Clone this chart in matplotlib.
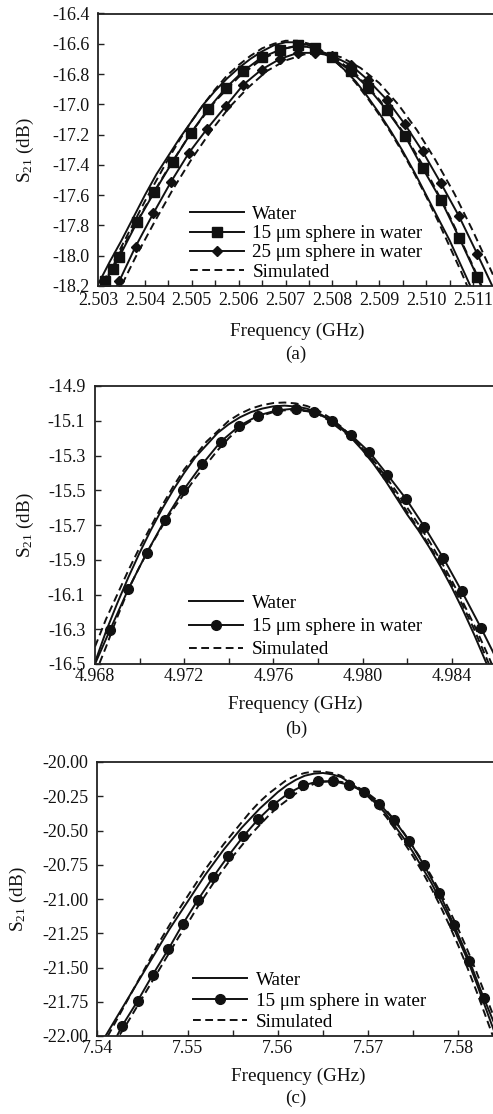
# plot.py
# S21 resonance curves: water vs polystyrene spheres in water, three bands (a), (b), (c)

import matplotlib
matplotlib.use('Agg')
import matplotlib.pyplot as plt
from matplotlib.ticker import MultipleLocator, FixedLocator, FormatStrFormatter

plt.rcParams['font.family'] = 'Liberation Serif'
plt.rcParams['mathtext.default'] = 'regular'
plt.rcParams['axes.unicode_minus'] = False

# ---------------- (a) ~2.507 GHz ----------------
fa_water = [2.50300, 2.50325, 2.50350, 2.50375, 2.50400, 2.50425, 2.50450, 2.50475, 2.50500,
            2.50525, 2.50550, 2.50575, 2.50600, 2.50625, 2.50650, 2.50675, 2.50700, 2.50725,
            2.50750, 2.50775, 2.50800, 2.50825, 2.50850, 2.50875, 2.50900, 2.50925, 2.50950,
            2.50975, 2.51000, 2.51025, 2.51050, 2.51075, 2.51100]
sa_water = [-18.19, -18.04, -17.90, -17.75, -17.60, -17.46, -17.34, -17.22, -17.11,
            -17.00, -16.91, -16.83, -16.76, -16.70, -16.65, -16.61, -16.59, -16.59,
            -16.61, -16.65, -16.70, -16.77, -16.85, -16.95, -17.06, -17.18, -17.31,
            -17.45, -17.60, -17.75, -17.90, -18.07, -18.24]

fa_15 = [2.50308, 2.50315, 2.50331, 2.50345, 2.50383, 2.50420, 2.50459, 2.50498, 2.50535,
         2.50573, 2.50610, 2.50649, 2.50688, 2.50726, 2.50763, 2.50798, 2.50839, 2.50876,
         2.50916, 2.50955, 2.50992, 2.51031, 2.51070, 2.51109, 2.51118]
sa_15 = [-18.20, -18.17, -18.09, -18.01, -17.78, -17.58, -17.38, -17.19, -17.03,
         -16.89, -16.78, -16.69, -16.64, -16.61, -16.63, -16.69, -16.78, -16.89,
         -17.04, -17.21, -17.42, -17.63, -17.88, -18.14, -18.21]

fa_25 = [2.50340, 2.50345, 2.50380, 2.50418, 2.50456, 2.50494, 2.50533, 2.50573, 2.50610,
         2.50649, 2.50688, 2.50726, 2.50763, 2.50800, 2.50839, 2.50876, 2.50916, 2.50954,
         2.50992, 2.51031, 2.51070, 2.51109, 2.51150]
sa_25 = [-18.20, -18.17, -17.94, -17.72, -17.51, -17.32, -17.16, -17.01, -16.87,
         -16.77, -16.70, -16.66, -16.66, -16.68, -16.74, -16.84, -16.97, -17.13,
         -17.31, -17.52, -17.74, -17.99, -18.26]

fa_sim_w = fa_water
sa_sim_w = [-18.25, -18.09, -17.94, -17.79, -17.64, -17.50, -17.36, -17.23, -17.11,
            -17.00, -16.90, -16.81, -16.74, -16.68, -16.63, -16.60, -16.58, -16.58,
            -16.60, -16.64, -16.70, -16.77, -16.86, -16.96, -17.07, -17.19, -17.32,
            -17.46, -17.61, -17.77, -17.94, -18.11, -18.29]

fa_sim_15 = [2.50310, 2.50350, 2.50400, 2.50450, 2.50500, 2.50550, 2.50600, 2.50650, 2.50700,
             2.50725, 2.50750, 2.50800, 2.50850, 2.50900, 2.50950, 2.51000, 2.51050, 2.51100,
             2.51125]
sa_sim_15 = [-18.20, -17.96, -17.68, -17.42, -17.18, -16.98, -16.82, -16.70, -16.63,
             -16.615, -16.62, -16.68, -16.80, -16.97, -17.18, -17.44, -17.74, -18.07,
             -18.25]

fa_sim_25 = [2.50340, 2.50380, 2.50420, 2.50460, 2.50500, 2.50540, 2.50580, 2.50620, 2.50660,
             2.50700, 2.50740, 2.50780, 2.50820, 2.50860, 2.50900, 2.50940, 2.50980, 2.51020,
             2.51060, 2.51100, 2.51140, 2.51170]
sa_sim_25 = [-18.26, -18.01, -17.78, -17.56, -17.36, -17.18, -17.02, -16.89, -16.78,
             -16.71, -16.67, -16.66, -16.69, -16.76, -16.86, -17.00, -17.17, -17.37,
             -17.59, -17.84, -18.11, -18.32]

ya_ticks = [-18.2, -18.0, -17.8, -17.6, -17.4, -17.2, -17.0, -16.8, -16.6, -16.4]

# ---------------- (b) ~4.976 GHz ----------------
fb_water = [4.9680, 4.9685, 4.9690, 4.9695, 4.9700, 4.9705, 4.9710, 4.9715, 4.9720, 4.9725,
            4.9730, 4.9735, 4.9740, 4.9745, 4.9750, 4.9755, 4.9760, 4.9765, 4.9770, 4.9775,
            4.9780, 4.9785, 4.9790, 4.9795, 4.9800, 4.9805, 4.9810, 4.9815, 4.9820, 4.9825,
            4.9830, 4.9835, 4.9840, 4.9845, 4.9850, 4.9855, 4.9860]
sb_water = [-16.49, -16.31, -16.15, -16.00, -15.86, -15.73, -15.61, -15.50, -15.40, -15.31,
            -15.24, -15.17, -15.12, -15.08, -15.05, -15.03, -15.017, -15.013, -15.018, -15.03,
            -15.055, -15.09, -15.14, -15.20, -15.27, -15.35, -15.44, -15.54, -15.64, -15.73,
            -15.83, -15.94, -16.06, -16.19, -16.33, -16.48, -16.63]

fb_15 = [4.96800, 4.96867, 4.96949, 4.97032, 4.97114, 4.97196, 4.97281, 4.97364, 4.97447,
         4.97532, 4.97615, 4.97700, 4.97782, 4.97864, 4.97946, 4.98030, 4.98111, 4.98195,
         4.98277, 4.98362, 4.98444, 4.98530, 4.98600]
sb_15 = [-16.50, -16.305, -16.07, -15.86, -15.67, -15.50, -15.35, -15.22, -15.13,
         -15.07, -15.04, -15.03, -15.05, -15.10, -15.18, -15.28, -15.41, -15.55,
         -15.71, -15.89, -16.08, -16.29, -16.47]

fb_sim_w = fb_water
sb_sim_w = [-16.40, -16.24, -16.10, -15.96, -15.83, -15.71, -15.59, -15.48, -15.38, -15.30,
            -15.22, -15.16, -15.10, -15.06, -15.03, -15.01, -14.998, -14.995, -15.00, -15.015,
            -15.04, -15.08, -15.13, -15.19, -15.26, -15.34, -15.43, -15.525, -15.625, -15.72,
            -15.82, -15.925, -16.04, -16.165, -16.30, -16.45, -16.60]

fb_sim_15 = fb_water
sb_sim_15 = [-16.56, -16.40, -16.23, -16.07, -15.94, -15.82, -15.71, -15.61, -15.52, -15.43,
             -15.35, -15.27, -15.20, -15.14, -15.10, -15.07, -15.05, -15.04, -15.04, -15.045,
             -15.06, -15.10, -15.15, -15.20, -15.255, -15.33, -15.415, -15.505, -15.60, -15.695,
             -15.795, -15.905, -16.02, -16.145, -16.275, -16.415, -16.56]

yb_ticks = [-16.5, -16.3, -16.1, -15.9, -15.7, -15.5, -15.3, -15.1, -14.9]

# ---------------- (c) ~7.565 GHz ----------------
fc_water = [7.5405, 7.5410, 7.5420, 7.5430, 7.5440, 7.5450, 7.5460, 7.5470, 7.5480, 7.5490,
            7.5500, 7.5510, 7.5520, 7.5530, 7.5540, 7.5550, 7.5560, 7.5570, 7.5580, 7.5590,
            7.5600, 7.5610, 7.5620, 7.5630, 7.5640, 7.5650, 7.5660, 7.5670, 7.5680, 7.5690,
            7.5700, 7.5710, 7.5720, 7.5730, 7.5740, 7.5750, 7.5760, 7.5770, 7.5780, 7.5790,
            7.5800, 7.5810, 7.5820, 7.5830, 7.5840, 7.5845]
sc_water = [-22.04, -21.99, -21.88, -21.77, -21.66, -21.55, -21.44, -21.33, -21.22, -21.12,
            -21.02, -20.92, -20.82, -20.73, -20.64, -20.56, -20.48, -20.41, -20.34, -20.28,
            -20.22, -20.17, -20.13, -20.10, -20.085, -20.08, -20.09, -20.11, -20.15, -20.20,
            -20.25, -20.31, -20.38, -20.47, -20.56, -20.66, -20.77, -20.88, -21.01, -21.14,
            -21.29, -21.44, -21.61, -21.79, -21.97, -22.06]

fc_15 = [7.54210, 7.54277, 7.54447, 7.54613, 7.54787, 7.54946, 7.55115, 7.55285, 7.55452,
         7.55618, 7.55784, 7.55950, 7.56120, 7.56283, 7.56449, 7.56615, 7.56789, 7.56955,
         7.57125, 7.57287, 7.57457, 7.57620, 7.57790, 7.57952, 7.58122, 7.58284, 7.58450]
sc_15 = [-22.01, -21.924, -21.744, -21.554, -21.367, -21.184, -21.006, -20.838, -20.685,
         -20.543, -20.417, -20.312, -20.227, -20.171, -20.141, -20.141, -20.166, -20.217,
         -20.305, -20.422, -20.575, -20.753, -20.957, -21.189, -21.449, -21.725, -21.99]

fc_sim_w = fc_water
sc_sim_w = [-22.08, -22.02, -21.90, -21.78, -21.66, -21.54, -21.42, -21.30, -21.19, -21.08,
            -20.98, -20.88, -20.78, -20.69, -20.60, -20.52, -20.44, -20.36, -20.29, -20.23,
            -20.18, -20.13, -20.10, -20.08, -20.07, -20.07, -20.08, -20.10, -20.14, -20.19,
            -20.25, -20.32, -20.40, -20.49, -20.59, -20.69, -20.80, -20.92, -21.05, -21.19,
            -21.34, -21.50, -21.67, -21.85, -22.03, -22.12]

fc_sim_15 = [7.5425, 7.5430, 7.5440, 7.5450, 7.5460, 7.5470, 7.5480, 7.5490, 7.5500, 7.5510,
             7.5520, 7.5530, 7.5540, 7.5550, 7.5560, 7.5570, 7.5580, 7.5590, 7.5600, 7.5610,
             7.5620, 7.5630, 7.5640, 7.5650, 7.5660, 7.5670, 7.5680, 7.5690, 7.5700, 7.5710,
             7.5720, 7.5730, 7.5740, 7.5750, 7.5760, 7.5770, 7.5780, 7.5790, 7.5800, 7.5810,
             7.5820, 7.5830, 7.5840, 7.5850]
sc_sim_15 = [-21.99, -21.94, -21.83, -21.72, -21.61, -21.50, -21.39, -21.28, -21.18, -21.07,
             -20.97, -20.87, -20.78, -20.69, -20.61, -20.53, -20.46, -20.39, -20.33, -20.28,
             -20.23, -20.19, -20.16, -20.145, -20.14, -20.145, -20.16, -20.19, -20.23, -20.28,
             -20.35, -20.43, -20.52, -20.62, -20.72, -20.83, -20.95, -21.08, -21.22, -21.37,
             -21.53, -21.70, -21.87, -22.04]

yc_ticks = [-22.0, -21.75, -21.5, -21.25, -21.0, -20.75, -20.5, -20.25, -20.0]

lbl_water = 'Water'
lbl_15 = '15 \u03bcm sphere in water'
lbl_25 = '25 \u03bcm sphere in water'
lbl_sim = 'Simulated'

# ---------------- figure ----------------
W, H = 493, 1114
fig = plt.figure(figsize=(W / 100, H / 100), dpi=100)

def px_axes(left, top, bottom, width):
    # pixel box -> figure fractions
    return fig.add_axes([left / W, 1 - bottom / H, width / W, (bottom - top) / H])

ax_a = px_axes(98, 13.5, 286, 398.6)
ax_b = px_axes(95, 386, 664, 401.4)
ax_c = px_axes(97.3, 762, 1036, 401.6)

K = '#111111'
LW = 1.4
DASH = (0, (4, 2.3))
FS_TICK = 13
FS_TEXT = 13.8

# (a)
ax_a.plot(fa_water, sa_water, color=K, lw=LW, label=lbl_water)
ax_a.plot(fa_15, sa_15, color=K, lw=LW, marker='s', ms=6.5, markevery=list(range(1, len(fa_15) - 1)), label=lbl_15)
ax_a.plot(fa_25, sa_25, color=K, lw=LW, marker='D', ms=5.2, markevery=list(range(1, len(fa_25) - 1)), label=lbl_25)
ax_a.plot(fa_sim_w, sa_sim_w, color=K, lw=LW, ls=DASH, label=lbl_sim)
ax_a.plot(fa_sim_15, sa_sim_15, color=K, lw=LW, ls=DASH)
ax_a.plot(fa_sim_25, sa_sim_25, color=K, lw=LW, ls=DASH)

# (b)
ax_b.plot(fb_water, sb_water, color=K, lw=LW, label=lbl_water)
ax_b.plot(fb_15, sb_15, color=K, lw=LW, marker='o', ms=7, markevery=list(range(1, len(fb_15) - 1)), label=lbl_15)
ax_b.plot(fb_sim_w, sb_sim_w, color=K, lw=LW, ls=DASH, label=lbl_sim)
ax_b.plot(fb_sim_15, sb_sim_15, color=K, lw=LW, ls=DASH)

# (c)
ax_c.plot(fc_water, sc_water, color=K, lw=LW, label=lbl_water)
ax_c.plot(fc_15, sc_15, color=K, lw=LW, marker='o', ms=7, markevery=list(range(1, len(fc_15) - 1)), label=lbl_15)
ax_c.plot(fc_sim_w, sc_sim_w, color=K, lw=LW, ls=DASH, label=lbl_sim)
ax_c.plot(fc_sim_15, sc_sim_15, color=K, lw=LW, ls=DASH)

panels = [
    # ax, xlim, yticks, xmaj, xmin, xfmt, yfmt, xpad, ypad, ylabx, xlaby, legend anchor, labelspacing
    (ax_a, (2.503, 2.5115), ya_ticks, 0.001, 0.0005, '%.3f', '%.1f', 4.0, 5.8, -0.156, -0.134, (0.231, 0.020), 0.09),
    (ax_b, (4.968, 4.986), yb_ticks, 0.004, 0.002, '%.3f', '%.1f', 3.2, 7.0, -0.148, -0.113, (0.235, 0.020), 0.30),
    (ax_c, (7.54, 7.5845), yc_ticks, 0.01, 0.005, '%.2f', '%.2f', 3.0, 6.5, -0.170, -0.114, (0.239, 0.018), 0.19),
]

for ax, xl, yt, xmaj, xmin, xf, yf, xpad, ypad, ylx, xly, anchor, lsp in panels:
    ax.set_xlim(*xl)
    ax.set_ylim(yt[0], yt[-1])
    ax.xaxis.set_major_locator(MultipleLocator(xmaj))
    ax.xaxis.set_minor_locator(MultipleLocator(xmin))
    ax.yaxis.set_major_locator(FixedLocator(yt))
    ax.xaxis.set_major_formatter(FormatStrFormatter(xf))
    ax.yaxis.set_major_formatter(FormatStrFormatter(yf))
    ax.tick_params(axis='x', which='both', direction='in', length=4.5, width=1.0, labelsize=FS_TICK, pad=xpad, colors='#222222', labelcolor='#111111')
    ax.tick_params(axis='y', which='major', direction='in', length=4.5, width=1.0, labelsize=FS_TICK, pad=ypad, colors='#222222', labelcolor='#111111')
    for s in ['left', 'bottom', 'top']:
        ax.spines[s].set_linewidth(1.3)
        ax.spines[s].set_color('#222222')
    ax.spines['right'].set_visible(False)
    ax.set_xlabel('Frequency (GHz)', fontsize=FS_TEXT, color='#111111')
    ax.set_ylabel('S$_{21}$ (dB)', fontsize=FS_TEXT, color='#111111')
    ax.xaxis.set_label_coords(0.5, xly)
    ax.yaxis.set_label_coords(ylx, 0.5)
    ax.legend(loc='lower left', bbox_to_anchor=anchor, frameon=False, fontsize=FS_TEXT,
              handlelength=2.8, handletextpad=0.45, labelspacing=lsp,
              borderpad=0, borderaxespad=0)

fig.text(0.600, 1 - 354 / H, '(a)', ha='center', va='center', fontsize=FS_TEXT, color='#111111')
fig.text(0.600, 1 - 729 / H, '(b)', ha='center', va='center', fontsize=FS_TEXT, color='#111111')
fig.text(0.600, 1 - 1098 / H, '(c)', ha='center', va='center', fontsize=FS_TEXT, color='#111111')

fig.savefig('out.png', dpi=100)
